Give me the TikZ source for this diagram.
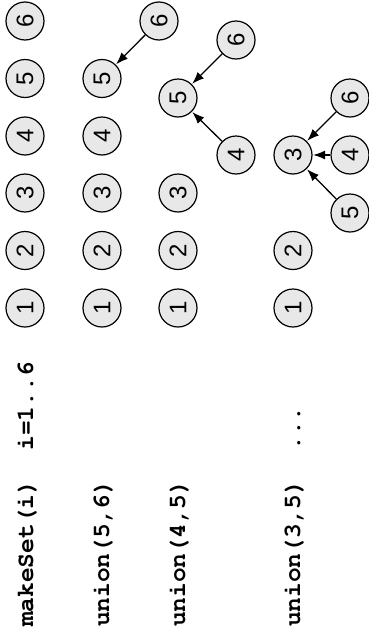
\documentclass[tikz,border=0pt]{standalone}
\usepackage{fontspec}
\setmainfont{Liberation Sans}
\usetikzlibrary{arrows.meta}
\newcommand{\codefnt}{\fontencoding{OT1}\fontfamily{pcr}\fontseries{b}\fontsize{24.5}{24.5}\selectfont}
\begin{document}
\begin{tikzpicture}[x=1pt,y=-1pt,
  elem/.style={circle,draw=black,line width=1.2pt,fill=black!9,minimum size=38pt,inner sep=0pt,
    font=\fontsize{24}{24}\selectfont,rotate=90},
  link/.style={-{Latex[length=12pt,width=9pt]},line width=1.3pt,shorten >=0.5pt},
  op/.style={anchor=base west,rotate=90,inner sep=0pt,font=\codefnt}]
\useasboundingbox (0,0) rectangle (368,643);
% column 1: makeSet
\node[elem] (a1) at (25,308) {1};
\node[elem] (a2) at (25,250.5) {2};
\node[elem] (a3) at (25,193) {3};
\node[elem] (a4) at (25,136) {4};
\node[elem] (a5) at (25,78.5) {5};
\node[elem] (a6) at (25,21) {6};
% column 2: union(5,6)
\node[elem] (b1) at (102,308) {1};
\node[elem] (b2) at (102,250.5) {2};
\node[elem] (b3) at (102,193) {3};
\node[elem] (b4) at (102,136) {4};
\node[elem] (b5) at (102,78.5) {5};
\node[elem] (b6) at (159,21) {6};
\draw[link] (b6) -- (b5);
% column 3: union(4,5)
\node[elem] (c1) at (178,308) {1};
\node[elem] (c2) at (178,250.5) {2};
\node[elem] (c3) at (178,193) {3};
\node[elem] (c5) at (178,98) {5};
\node[elem] (c6) at (236,40) {6};
\node[elem] (c4) at (236,155) {4};
\draw[link] (c6) -- (c5);
\draw[link] (c4) -- (c5);
% column 4: union(3,5)
\node[elem] (d1) at (293,308) {1};
\node[elem] (d2) at (293,250.5) {2};
\node[elem] (d3) at (293,155) {3};
\node[elem] (d6) at (350,98) {6};
\node[elem] (d4) at (350,155) {4};
\node[elem] (d5) at (350,213) {5};
\draw[link] (d6) -- (d3);
\draw[link] (d4) -- (d3);
\draw[link] (d5) -- (d3);
% operations
\node[op] (t1) at (33,627) {makeSet(i)\ \ i=1..6};
\node[op] (t2) at (109,627) {union(5,6)};
\node[op] (t3) at (185,627) {union(4,5)};
\node[op] (t4) at (300,627) {union(3,5)\ \ ...};
\end{tikzpicture}
\end{document}
